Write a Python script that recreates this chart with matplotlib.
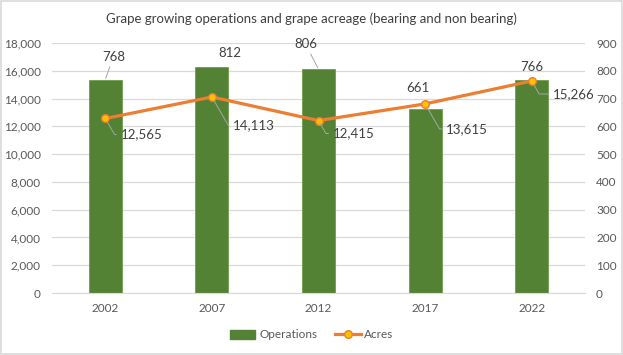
import numpy as np
import matplotlib
matplotlib.use("Agg")
import matplotlib.pyplot as plt
from matplotlib.patches import Rectangle
from matplotlib.lines import Line2D

plt.rcParams['font.family'] = ['Lato', 'DejaVu Sans']

years = ['2002', '2007', '2012', '2017', '2022']
operations = [768, 812, 806, 661, 766]
acres = [12565, 14113, 12415, 13615, 15266]
title = 'Grape growing operations and grape acreage (bearing and non bearing)'

# label offsets in pixels (dx, dy) -- style, not data
ops_offsets = [(8, 23), (18, 14), (-13, 25), (-7, 21), (0, 13)]
ops_leader = [True, False, True, False, False]
acre_offsets = [(36, -16), (42, -28), (35, -13), (42, -25), (42, -13)]

green = '#548235'
orange = '#ED7D31'
gold = '#FFC000'
txt = '#404040'
tick_c = '#595959'
grid_c = '#D9D9D9'

fig = plt.figure(figsize=(6.23, 3.55), dpi=100)
ax2 = fig.add_axes([52 / 623, 1 - 293 / 355, 533 / 623, 250 / 355])
ax = ax2.twinx()
ax.set_zorder(ax2.get_zorder() + 1)
ax.patch.set_visible(False)

x = np.arange(len(years))

# bars on secondary (right) axis
bars = ax2.bar(x, operations, width=0.31, color=green, edgecolor='#6E9E4A',
               linewidth=0.6, zorder=2)
ax2.set_ylim(0, 900)
ax2.set_yticks(np.arange(0, 901, 100))
ax2.yaxis.tick_right()
ax2.yaxis.set_label_position('right')
ax2.set_axisbelow(True)
ax2.grid(axis='y', color=grid_c, linewidth=0.9)
ax2.set_xlim(-0.5, len(years) - 0.5)
ax2.set_xticks(x)
ax2.set_xticklabels(years)

# line on primary (left) axis
ax.plot(x, acres, color=orange, linewidth=2.3, marker='o', markersize=5.5,
        markerfacecolor=gold, markeredgecolor=orange, markeredgewidth=1.0,
        zorder=3)
ax.set_ylim(0, 18000)
ax.set_yticks(np.arange(0, 18001, 2000))
ax.yaxis.tick_left()
ax.yaxis.set_major_formatter(matplotlib.ticker.StrMethodFormatter('{x:,.0f}'))

for a in (ax, ax2):
    for s in a.spines.values():
        s.set_visible(False)
    a.tick_params(length=0, labelsize=8.5, colors=tick_c, pad=8)
ax2.spines['bottom'].set_visible(True)
ax2.spines['bottom'].set_color(grid_c)
ax2.tick_params(axis='x', pad=7)

# data labels
for i, v in enumerate(operations):
    dx, dy = ops_offsets[i]
    ap = None
    if ops_leader[i]:
        ap = dict(arrowstyle='-', color='#A6A6A6', lw=0.7, shrinkA=1, shrinkB=1)
    ax2.annotate(str(v), xy=(x[i], v), xytext=(dx, dy),
                 textcoords='offset pixels', ha='center', va='center',
                 fontsize=9.5, color=txt, arrowprops=ap)

for i, v in enumerate(acres):
    dx, dy = acre_offsets[i]
    ax.annotate(f'{v:,}', xy=(x[i], v), xytext=(dx, dy),
                textcoords='offset pixels', ha='center', va='center',
                fontsize=9.5, color=txt,
                arrowprops=dict(arrowstyle='-', color='#A6A6A6', lw=0.7,
                                shrinkA=1, shrinkB=3, relpos=(0, 0.5),
                                connectionstyle='angle,angleA=0,angleB=-60,rad=0'))

fig.text(0.5, 1 - 19 / 355, title, ha='center', va='center', fontsize=9.5,
         color=txt)

handles = [Rectangle((0, 0), 1, 1, color=green),
           Line2D([0], [0], color=orange, lw=2.3, marker='o', markersize=5.5,
                  markerfacecolor=gold, markeredgecolor=orange)]
fig.legend(handles, ['Operations', 'Acres'], loc='center',
           bbox_to_anchor=(0.5, 1 - 335 / 355), ncol=2, frameon=False,
           fontsize=8.5, labelcolor=tick_c, handlelength=2.2,
           columnspacing=1.5, handletextpad=0.3)

fig.add_artist(Rectangle((0.001, 0.002), 0.997, 0.995, transform=fig.transFigure,
                         fill=False, edgecolor='#D9D9D9', linewidth=1.2))

fig.savefig('out.png', dpi=100)
